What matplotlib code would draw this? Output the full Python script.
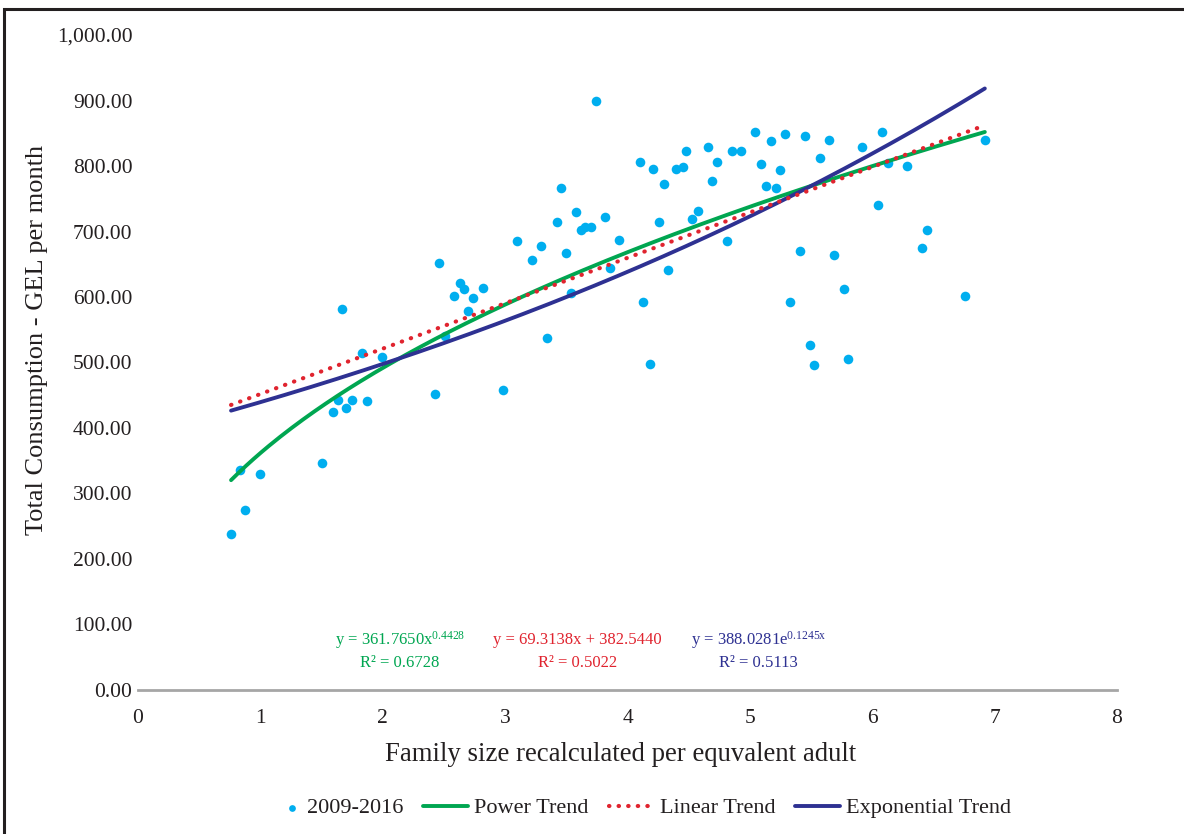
import numpy as np
import matplotlib.pyplot as plt
from matplotlib.patches import Rectangle
from matplotlib.legend_handler import HandlerPathCollection

# --- data ---
family_size = [0.76, 0.83, 0.87, 1.00, 1.50, 1.59, 1.63, 1.67, 1.70, 1.75, 1.83, 1.87, 1.99,
               2.43, 2.46, 2.51, 2.58, 2.63, 2.66, 2.70, 2.74, 2.82, 2.98, 3.10, 3.22, 3.29,
               3.34, 3.42, 3.46, 3.50, 3.54, 3.58, 3.62, 3.65, 3.70, 3.74, 3.82, 3.86, 3.93,
               4.10, 4.13, 4.18, 4.21, 4.26, 4.30, 4.33, 4.40, 4.45, 4.48, 4.53, 4.58, 4.66,
               4.69, 4.73, 4.81, 4.85, 4.93, 5.04, 5.09, 5.13, 5.17, 5.21, 5.25, 5.29, 5.33,
               5.41, 5.45, 5.49, 5.52, 5.57, 5.65, 5.69, 5.77, 5.80, 5.92, 6.05, 6.08, 6.13,
               6.28, 6.41, 6.45, 6.76, 6.92]
consumption = [238, 336, 275, 330, 347, 424, 443, 582, 431, 443, 514, 441, 508,
               452, 652, 540, 601, 621, 612, 579, 598, 614, 458, 685, 656, 678,
               537, 714, 766, 667, 606, 730, 702, 707, 707, 900, 722, 645, 687,
               806, 592, 498, 796, 714, 773, 641, 796, 798, 823, 719, 731, 829,
               777, 806, 685, 823, 823, 852, 803, 769, 838, 766, 794, 849, 592,
               670, 846, 527, 496, 812, 840, 664, 612, 505, 829, 741, 852, 805,
               800, 675, 702, 602, 840]

# trend line coefficients (from the chart labels)
pow_a, pow_b = 361.7650, 0.4428
lin_m, lin_c = 69.3138, 382.5440
exp_a, exp_b = 388.0281, 0.1245
r2_pow, r2_lin, r2_exp = 0.6728, 0.5022, 0.5113

c_pts = "#00AEEF"
c_pow = "#00A651"
c_lin = "#E0242F"
c_exp = "#2E3192"
c_txt = "#231F20"

plt.rcParams['font.family'] = ['Liberation Serif', 'DejaVu Serif']
plt.rcParams['mathtext.fontset'] = 'custom'
plt.rcParams['mathtext.rm'] = 'Liberation Serif'
plt.rcParams['mathtext.it'] = 'Liberation Serif:italic'


class DotNearText(HandlerPathCollection):
    # put the scatter marker at the right end of the handle, next to the label
    def get_xdata(self, legend, xdescent, ydescent, width, height, fontsize):
        x = [-xdescent + width - 6]
        return x, x


fig = plt.figure(figsize=(11.84, 8.34), dpi=100)
ax = fig.add_axes([0.1166, 0.1727, 0.8268, 0.7853])

xs = np.array(family_size)
xx = np.linspace(xs.min(), xs.max(), 200)

pts = ax.scatter(family_size, consumption, s=48, color=c_pts, zorder=2, label="2009-2016",
                 linewidths=0)
ax.plot(xx, pow_a * xx ** pow_b, color=c_pow, lw=2.8, zorder=3, label="Power Trend",
        solid_capstyle='round')
ax.plot(xx, lin_m * xx + lin_c, color=c_lin, lw=3, linestyle=(0, (0.1, 2.2)),
        dash_capstyle='round', zorder=4, label="Linear Trend")
ax.plot(xx, exp_a * np.exp(exp_b * xx), color=c_exp, lw=2.8, zorder=3,
        label="Exponential Trend", solid_capstyle='round')

ax.set_xlim(0, 8)
ax.set_ylim(0, 1000)
ax.set_xticks(range(0, 9))
ax.set_yticks(range(0, 1001, 100))
ax.set_yticklabels([f"{v:,.2f}" for v in range(0, 1001, 100)])
ax.tick_params(axis='both', length=0, labelsize=15.5, colors=c_txt)
ax.tick_params(axis='x', pad=14)
ax.tick_params(axis='y', pad=4)
for s in ['top', 'right', 'left']:
    ax.spines[s].set_visible(False)
ax.spines['bottom'].set_color('#A6A6A6')
ax.spines['bottom'].set_linewidth(2)

ax.set_xlabel("Family size recalculated per equvalent adult", fontsize=19.3, color=c_txt)
ax.xaxis.set_label_coords(0.493, -0.079)
ax.set_ylabel("Total Consumption - GEL per month", fontsize=19, color=c_txt)
ax.yaxis.set_label_coords(-0.092, 0.534)

# equations
fs = 12
ax.text(2.14, 76, r"y = 361.7650x$^{\mathrm{0.4428}}$", color=c_pow, fontsize=fs,
        ha='center', va='center')
ax.text(2.14, 41, f"R² = {r2_pow:.4f}", color=c_pow, fontsize=fs, ha='center', va='center')
ax.text(3.59, 76, f"y = {lin_m:.4f}x + {lin_c:.4f}", color=c_lin, fontsize=fs,
        ha='center', va='center')
ax.text(3.59, 41, f"R² = {r2_lin:.4f}", color=c_lin, fontsize=fs, ha='center', va='center')
ax.text(5.07, 76, r"y = 388.0281e$^{\mathrm{0.1245x}}$", color=c_exp, fontsize=fs,
        ha='center', va='center')
ax.text(5.07, 41, f"R² = {r2_exp:.4f}", color=c_exp, fontsize=fs, ha='center', va='center')

leg = fig.legend(loc='center', bbox_to_anchor=(0.535, 0.031), ncol=4, frameon=False,
                 fontsize=16, handlelength=2.0, columnspacing=0.9, handletextpad=0.3,
                 markerscale=0.7, handler_map={pts: DotNearText()})
for t in leg.get_texts():
    t.set_color(c_txt)

# outer frame (cut off at the right and bottom like the reference)
fig.patches.append(Rectangle((4 / 1184, -0.05), 1.2, 1 - 9 / 834 + 0.05,
                             transform=fig.transFigure, fill=False, edgecolor=c_txt,
                             linewidth=2.2))

fig.savefig("out.png", dpi=100)
